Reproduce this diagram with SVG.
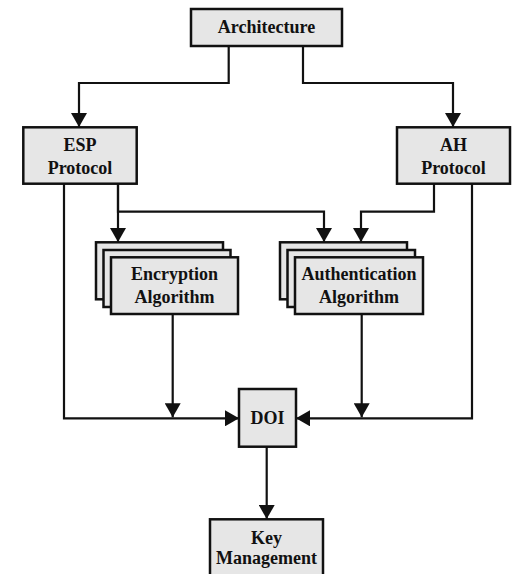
<svg xmlns="http://www.w3.org/2000/svg" width="515" height="574" viewBox="0 0 515 574">
<style>
.box{fill:#e6e6e6;stroke:#111;stroke-width:2.5}
.lbl{font-family:"Liberation Serif","Times New Roman",serif;font-weight:bold;font-size:18px;fill:#111;text-anchor:middle}
.conn{fill:none;stroke:#111;stroke-width:2.2}
</style>
<defs>
<marker id="arr" markerUnits="userSpaceOnUse" markerWidth="14" markerHeight="16" refX="14" refY="8" orient="auto">
<path d="M0,0 L14,8 L0,16 Z" fill="#111"/>
</marker>
</defs>
<rect width="515" height="574" fill="#fff"/>
<g id="connectors">
<path class="conn" d="M228.7,46 V83 H79 V127" marker-end="url(#arr)"/>
<path class="conn" d="M303,46 V83 H453 V127" marker-end="url(#arr)"/>
<path class="conn" d="M118,184 V242" marker-end="url(#arr)"/>
<path class="conn" d="M118,184 V211.7 H324 V242" marker-end="url(#arr)"/>
<path class="conn" d="M434,184 V211.7 H361 V242" marker-end="url(#arr)"/>
<path class="conn" d="M64,184 V418.3 H239" marker-end="url(#arr)"/>
<path class="conn" d="M472,184 V418.3 H296" marker-end="url(#arr)"/>
<path class="conn" d="M172.7,314 V417.3" marker-end="url(#arr)"/>
<path class="conn" d="M361.7,314 V417.3" marker-end="url(#arr)"/>
<path class="conn" d="M266.7,447 V519" marker-end="url(#arr)"/>
</g>
<g id="architecture">
<rect class="box" x="191" y="9" width="151" height="37"/>
<text class="lbl" x="266.5" y="33">Architecture</text>
</g>
<g id="esp">
<rect class="box" x="23.3" y="127.3" width="113.4" height="56.4"/>
<text class="lbl" x="80" y="151">ESP</text>
<text class="lbl" x="80" y="173.5">Protocol</text>
</g>
<g id="ah">
<rect class="box" x="397" y="127.3" width="113" height="56.4"/>
<text class="lbl" x="453.5" y="151">AH</text>
<text class="lbl" x="453.5" y="173.5">Protocol</text>
</g>
<g id="encryption">
<rect class="box" x="96" y="242.3" width="127" height="57"/>
<rect class="box" x="103.5" y="250" width="127" height="57"/>
<rect class="box" x="111" y="257.3" width="127" height="56.7"/>
<text class="lbl" x="174.5" y="280">Encryption</text>
<text class="lbl" x="174.5" y="302.5">Algorithm</text>
</g>
<g id="authentication">
<rect class="box" x="280" y="242.3" width="127" height="57"/>
<rect class="box" x="287.5" y="250" width="127.5" height="57"/>
<rect class="box" x="295" y="257.3" width="128" height="56.7"/>
<text class="lbl" x="359" y="280">Authentication</text>
<text class="lbl" x="359" y="302.5">Algorithm</text>
</g>
<g id="doi">
<rect class="box" x="239" y="389" width="57" height="57.7"/>
<text class="lbl" x="267.5" y="424">DOI</text>
</g>
<g id="keymgmt">
<rect class="box" x="210" y="519.3" width="113" height="70"/>
<text class="lbl" x="266.5" y="543.5">Key</text>
<text class="lbl" x="266.5" y="564">Management</text>
</g>
</svg>
